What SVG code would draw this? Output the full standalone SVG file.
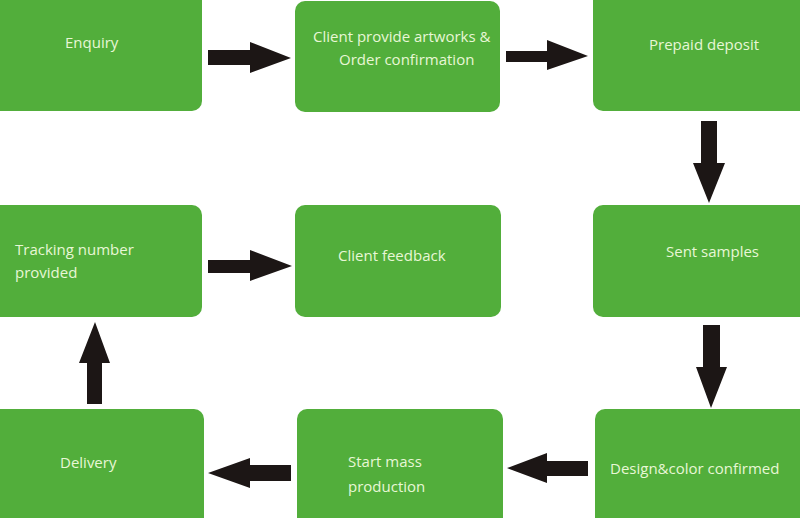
<svg xmlns="http://www.w3.org/2000/svg" width="800" height="518" viewBox="0 0 800 518">
<style>
.box{fill:#52ae3b;}
.t{font-family:"Open Sans","Noto Sans","Liberation Sans",sans-serif;font-size:15px;fill:#e8f7d6;}
.arr{fill:#1c1615;}
</style>
<rect width="800" height="518" fill="#ffffff"/>
<g id="n1"><rect class="box" x="-10" y="-10" width="212" height="121" rx="10"/><text class="t" x="65" y="48">Enquiry</text></g>
<g id="n2"><rect class="box" x="295" y="1" width="205" height="111" rx="10"/><text class="t" x="313" y="42">Client provide artworks &amp;</text><text class="t" x="339" y="65">Order confirmation</text></g>
<g id="n3"><rect class="box" x="593" y="-10" width="217" height="121" rx="10"/><text class="t" x="649" y="50">Prepaid deposit</text></g>
<g id="n4"><rect class="box" x="593" y="205" width="217" height="112" rx="10"/><text class="t" x="666" y="257">Sent samples</text></g>
<g id="n5"><rect class="box" x="595" y="409" width="215" height="119" rx="10"/><text class="t" x="610" y="474">Design&amp;color confirmed</text></g>
<g id="n6"><rect class="box" x="297" y="409" width="206" height="119" rx="10"/><text class="t" x="348" y="467">Start mass</text><text class="t" x="348" y="492">production</text></g>
<g id="n7"><rect class="box" x="-10" y="409" width="214" height="119" rx="10"/><text class="t" x="60" y="468">Delivery</text></g>
<g id="n8"><rect class="box" x="-10" y="205" width="212" height="112" rx="10"/><text class="t" x="15" y="255">Tracking number</text><text class="t" x="15" y="278">provided</text></g>
<g id="n9"><rect class="box" x="295" y="205" width="206" height="112" rx="10"/><text class="t" x="338" y="261">Client feedback</text></g>
<g id="connectors">
<polygon class="arr" points="208,50 250,50 250,42 291,58 250,73 250,65 208,65"/>
<polygon class="arr" points="506,51 547,51 547,40 588,56 547,70 547,62 506,62"/>
<polygon class="arr" points="701,121 717,121 717,163 725,163 709,203 693,163 701,163"/>
<polygon class="arr" points="703,325 720,325 720,367 727,367 711,408 696,367 703,367"/>
<polygon class="arr" points="588,461 547,461 547,453 507,468 547,483 547,476 588,476"/>
<polygon class="arr" points="291,465 250,465 250,458 208,473 250,488 250,481 291,481"/>
<polygon class="arr" points="87,404 87,363 79,363 95,322 110,363 102,363 102,404"/>
<polygon class="arr" points="208,260 250,260 250,250 292,266 250,281 250,273 208,273"/>
</g>
</svg>
